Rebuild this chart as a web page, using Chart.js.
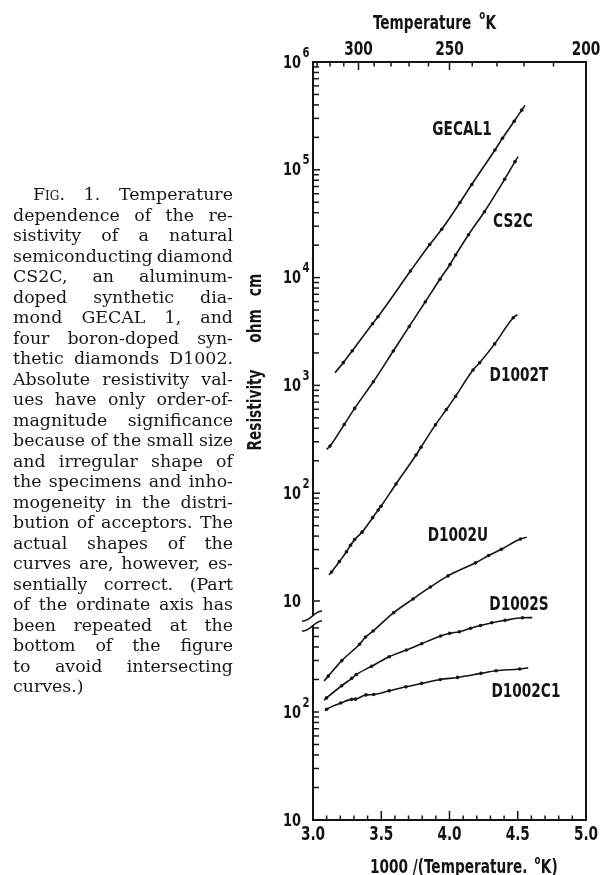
<!DOCTYPE html>
<html>
<head>
<meta charset="utf-8">
<script src="https://cdn.jsdelivr.net/npm/chart.js@4.4.1/dist/chart.umd.min.js"></script>
<style>
  html, body { margin: 0; padding: 0; background: #fff; }
  #wrap { position: relative; width: 602px; height: 875px; overflow: hidden; }
  #chart { position: absolute; left: 0; top: 0; }
  #caption {
    position: absolute; left: 13px; top: 184px; width: 220px;
    font-family: "DejaVu Serif", serif; font-size: 17.4px; line-height: 20.5px; color: #161616;
  }
  #caption .ln { display: flex; justify-content: space-between; white-space: nowrap; column-gap: 4px; }
  #caption .ln.last { justify-content: flex-start; }
  #caption .ln.first { padding-left: 20px; }
  .sc { font-variant: small-caps; }
</style>
</head>
<body>
<div id="wrap">
  <canvas id="chart" width="602" height="875"></canvas>
  <div id="caption"></div>
</div>
<script>
// ========= data =========
// x = 1000 / T (1/K), y = resistivity (ohm cm)

// upper ordinate
const gecalX = [3.161, 3.222, 3.288, 3.436, 3.476, 3.714, 3.855, 3.943, 4.077, 4.163, 4.333, 4.388, 4.474, 4.529, 4.553];
const gecalR = [1312, 1625, 2099, 3733, 4337, 11500, 20270, 28050, 49750, 73100, 152700, 196000, 282500, 357600, 395800];

const cs2cX = [3.100, 3.125, 3.229, 3.305, 3.442, 3.588, 3.705, 3.823, 3.930, 4.004, 4.045, 4.139, 4.256, 4.404, 4.480, 4.502];
const cs2cR = [255, 274, 434, 612, 1081, 2083, 3524, 5970, 9660, 13240, 16200, 25000, 40850, 81800, 119000, 132300];

const d1002tX = [3.117, 3.136, 3.193, 3.245, 3.275, 3.305, 3.359, 3.437, 3.478, 3.498, 3.608, 3.755, 3.791, 3.897, 3.977, 4.044, 4.172, 4.221, 4.331, 4.467, 4.498];
const d1002tR = [17.4, 18.6, 23.2, 28.6, 32.9, 37.1, 43.5, 59.3, 69.9, 75.6, 121.7, 226, 267, 430, 597, 791, 1390, 1623, 2427, 4246, 4541];

const d1002uX = [3.081, 3.112, 3.211, 3.341, 3.385, 3.440, 3.591, 3.733, 3.860, 3.989, 4.190, 4.286, 4.380, 4.520, 4.566];
const d1002uR = [1.81, 2.01, 2.80, 3.97, 4.63, 5.27, 7.80, 10.45, 13.5, 17.1, 22.6, 26.4, 30.2, 37.6, 39.0];

// repeated ordinate at the bottom
const d1002sX = [3.081, 3.099, 3.210, 3.284, 3.317, 3.429, 3.558, 3.684, 3.796, 3.935, 4.001, 4.072, 4.154, 4.227, 4.310, 4.407, 4.535, 4.607];
const d1002sR = [129, 135, 175, 205, 222, 265, 325, 375, 429, 506, 535, 554, 596, 632, 670, 706, 745, 748];

const d1002c1X = [3.088, 3.100, 3.203, 3.284, 3.311, 3.388, 3.445, 3.558, 3.681, 3.796, 3.933, 4.059, 4.231, 4.341, 4.514, 4.577];
const d1002c1R = [103, 106, 121, 131, 131.5, 144, 145, 157, 171, 184, 200, 209, 228, 241, 250, 257];

// axes
const xTickLabels = [3.0, 3.5, 4.0, 4.5, 5.0];
const topTemps = [330, 320, 310, 300, 290, 280, 270, 260, 250, 240, 230, 220, 210, 200];
const topTempLabels = [300, 250, 200];
const upperDecades = [1, 2, 3, 4, 5, 6];
const lowerDecades = [1, 2];
const lowerTop = 600;      // last minor tick under the break
const breakUpper = 7.26;   // upper ordinate ends here
const breakLower = 625;    // repeated ordinate starts here

// curve labels: [text, x, resistivity, axis]
const curveLabels = [
  ["GECAL1", 4.092, 2.34e5, "yUp"],
  ["CS2C", 4.465, 3.28e4, "yUp"],
  ["D1002T", 4.509, 1222, "yUp"],
  ["D1002U", 4.062, 40, "yUp"],
  ["D1002S", 4.509, 980, "yLow"],
  ["D1002C1", 4.560, 153, "yLow"]
];

const captionLines = [
  ['<span class="sc">Fig.</span>', "1.", "Temperature"],
  "dependence of the re-",
  "sistivity of a natural",
  "semiconducting diamond",
  "CS2C, an aluminum-",
  "doped synthetic dia-",
  "mond GECAL 1, and",
  "four boron-doped syn-",
  "thetic diamonds D1002.",
  "Absolute resistivity val-",
  "ues have only order-of-",
  "magnitude significance",
  "because of the small size",
  "and irregular shape of",
  "the specimens and inho-",
  "mogeneity in the distri-",
  "bution of acceptors. The",
  "actual shapes of the",
  "curves are, however, es-",
  "sentially correct. (Part",
  "of the ordinate axis has",
  "been repeated at the",
  "bottom of the figure",
  "to avoid intersecting",
  "curves.)"
];

// ========= caption =========
const cap = document.getElementById("caption");
captionLines.forEach((txt, i) => {
  const div = document.createElement("div");
  const last = i === captionLines.length - 1;
  div.className = "ln" + (i === 0 ? " first" : "") + (last ? " last" : "");
  if (last) {
    div.innerHTML = txt;
  } else {
    const words = Array.isArray(txt) ? txt : txt.split(" ");
    words.forEach(w => {
      const s = document.createElement("span");
      s.innerHTML = w;
      div.appendChild(s);
    });
  }
  cap.appendChild(div);
});

// ========= chart =========
const INK = "#141414";
const SANS = '"DejaVu Sans Condensed", "DejaVu Sans", sans-serif';
const SQ = 0.8;   // squeeze to imitate the narrow lettering face
const bold = size => `bold ${size}px ${SANS}`;

function series(label, xs, ys, axis) {
  const n = xs.length;
  return {
    label,
    data: xs.map((x, i) => ({ x, y: ys[i] })),
    yAxisID: axis,
    borderColor: INK,
    backgroundColor: INK,
    borderWidth: 1.6,
    pointRadius: xs.map((_, i) => (i === 0 || i === n - 1) ? 0 : 1.8),
    pointBorderWidth: 0,
    pointHoverRadius: 0,
    cubicInterpolationMode: "monotone",
    clip: false
  };
}

function line(ctx, x1, y1, x2, y2) {
  ctx.beginPath();
  ctx.moveTo(x1, y1);
  ctx.lineTo(x2, y2);
  ctx.stroke();
}

// narrow bold text; returns drawn width
function narrow(ctx, txt, x, y, size, align = "left", baseline = "middle") {
  ctx.font = bold(size);
  const w = ctx.measureText(txt).width * SQ;
  let x0 = x;
  if (align === "center") x0 = x - w / 2;
  if (align === "right") x0 = x - w;
  ctx.save();
  ctx.translate(x0, y);
  ctx.scale(SQ, 1);
  ctx.textAlign = "left";
  ctx.textBaseline = baseline;
  ctx.fillText(txt, 0, 0);
  ctx.restore();
  return w;
}

function breakWave(ctx, x, y) {
  ctx.beginPath();
  ctx.moveTo(x - 11, y + 5);
  ctx.bezierCurveTo(x - 3, y + 6, x + 1, y - 5, x + 9, y - 5);
  ctx.stroke();
}

function decadeLabel(ctx, exp, x, y) {
  const w = narrow(ctx, "10", x, y + 1, 18);
  if (exp > 1) narrow(ctx, String(exp), x + w + 1.5, y - 9, 14);
}

// text with a raised small "o" before K
function degreeText(ctx, before, after, x, y, size, gap) {
  let cx = x + narrow(ctx, before, x, y, size, "left", "alphabetic") + gap;
  cx += narrow(ctx, "o", cx, y - size * 0.48, Math.round(size * 0.62), "left", "alphabetic") + 0.5;
  narrow(ctx, after, cx, y, size, "left", "alphabetic");
}

const framePlugin = {
  id: "frame",
  afterDraw(chart) {
    const { ctx, chartArea: a, scales } = chart;
    const { x, xTop, yUp, yLow } = scales;
    ctx.save();
    ctx.strokeStyle = INK;
    ctx.fillStyle = INK;

    // right and left frame (left broken)
    ctx.lineWidth = 2;
    line(ctx, a.right, a.top - 1, a.right, a.bottom + 1);
    const yb1 = yUp.getPixelForValue(breakUpper);
    const yb2 = yLow.getPixelForValue(breakLower);
    line(ctx, a.left, a.top - 1, a.left, yb1);
    line(ctx, a.left, yb2, a.left, a.bottom + 1);
    ctx.lineWidth = 1.5;
    breakWave(ctx, a.left, yb1);
    breakWave(ctx, a.left, yb2);

    // inward ticks, upper ordinate
    upperDecades.forEach(n => {
      for (let k = 1; k <= 9; k++) {
        const v = k * Math.pow(10, n - 1);
        if (v < 10 || v > 1e6) continue;
        const py = yUp.getPixelForValue(v);
        line(ctx, a.left, py, a.left + (k === 1 ? 7 : 6), py);
      }
    });
    // inward ticks, repeated ordinate
    for (let n = 1; n <= 2; n++) {
      for (let k = 1; k <= 9; k++) {
        const v = k * Math.pow(10, n);
        if (v > lowerTop) continue;
        const py = yLow.getPixelForValue(v);
        line(ctx, a.left, py, a.left + 6, py);
      }
    }
    // ticks and labels of the top (temperature) axis
    xTop.ticks.forEach(t => {
      const px = xTop.getPixelForValue(t.value);
      const T = Math.round(1000 / t.value);
      const major = topTempLabels.includes(T);
      line(ctx, px, a.top, px, a.top + (major ? 8 : 4.5));
      if (major) narrow(ctx, String(T), px, a.top - 12, 19, "center");
    });
    // ticks and labels of the bottom axis
    for (let i = 31; i < 50; i++) {
      const px = x.getPixelForValue(i / 10);
      line(ctx, px, a.bottom, px, a.bottom - (i % 5 === 0 ? 9 : 4.5));
    }
    x.ticks.forEach(t => {
      narrow(ctx, t.value.toFixed(1), x.getPixelForValue(t.value), a.bottom + 15, 19, "center");
    });

    // ordinate labels
    upperDecades.forEach(n => decadeLabel(ctx, n, a.left - 30, yUp.getPixelForValue(Math.pow(10, n))));
    lowerDecades.forEach(n => decadeLabel(ctx, n, a.left - 30, yLow.getPixelForValue(Math.pow(10, n))));

    // axis titles
    degreeText(ctx, "Temperature", "K", 373, 28.5, 19, 8);
    degreeText(ctx, "1000 /(Temperature.", "K)", 370, 873, 19, 7);

    ctx.save();
    ctx.translate(256, 0);
    ctx.rotate(-Math.PI / 2);
    narrow(ctx, "Resistivity", -410, 0, 19, "center");
    narrow(ctx, "ohm", -326, 0, 19, "center");
    narrow(ctx, "cm", -285, 0, 19, "center");
    ctx.restore();

    // curve labels
    curveLabels.forEach(([txt, xv, rv, axis]) => {
      narrow(ctx, txt, x.getPixelForValue(xv), scales[axis].getPixelForValue(rv), 19, "center");
    });
    ctx.restore();
  }
};

new Chart(document.getElementById("chart"), {
  type: "line",
  data: {
    datasets: [
      series("GECAL1", gecalX, gecalR, "yUp"),
      series("CS2C", cs2cX, cs2cR, "yUp"),
      series("D1002T", d1002tX, d1002tR, "yUp"),
      series("D1002U", d1002uX, d1002uR, "yUp"),
      series("D1002S", d1002sX, d1002sR, "yLow"),
      series("D1002C1", d1002c1X, d1002c1R, "yLow")
    ]
  },
  options: {
    responsive: false,
    animation: false,
    events: [],
    layout: { padding: { left: 313, right: 16, top: 0, bottom: 0 } },
    plugins: { legend: { display: false }, tooltip: { enabled: false } },
    scales: {
      x: {
        type: "linear", position: "bottom", min: 3, max: 5,
        grid: { display: false, drawTicks: false },
        border: { display: true, color: INK, width: 2 },
        afterBuildTicks: s => { s.ticks = xTickLabels.map(v => ({ value: v })); },
        ticks: { display: false },
        afterFit: s => { s.height = 55; }
      },
      xTop: {
        type: "linear", position: "top", min: 3, max: 5,
        grid: { display: false, drawTicks: false },
        border: { display: true, color: INK, width: 2 },
        afterBuildTicks: s => { s.ticks = topTemps.map(T => ({ value: 1000 / T })); },
        ticks: { display: false },
        afterFit: s => { s.height = 62; }
      },
      yUp: { type: "logarithmic", position: "left", display: false, min: Math.pow(10, 6 - 758 / 107.8), max: 1e6 },
      yLow: { type: "logarithmic", position: "left", display: false, min: 10, max: Math.pow(10, 1 + 758 / 108) }
    }
  },
  plugins: [framePlugin]
});
</script>
</body>
</html>
